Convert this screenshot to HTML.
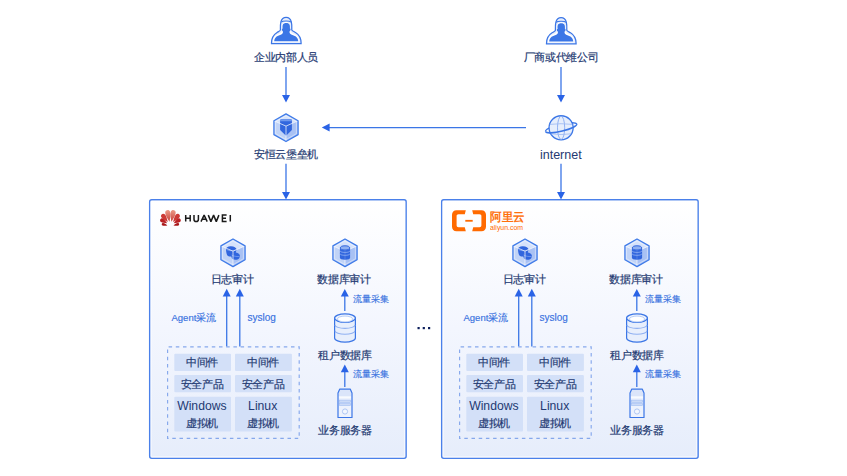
<!DOCTYPE html>
<html><head><meta charset="utf-8">
<style>
html,body{margin:0;padding:0;background:#fff;width:847px;height:476px;overflow:hidden}
body{position:relative;font-family:"Liberation Sans",sans-serif}
svg{position:absolute;left:0;top:0}
.t{position:absolute;line-height:1;white-space:nowrap;color:#243a72;-webkit-text-stroke:0.2px #243a72}
.c{width:200px;text-align:center}
.s{font-size:11px;transform:scale(0.97);transform-origin:50% 50%}
.b{color:#3771e0;-webkit-text-stroke:0.15px #3771e0;font-size:9px}
</style></head><body>
<svg width="847" height="476" viewBox="0 0 847 476">
<defs>
<linearGradient id="bg" x1="0" y1="0" x2="0" y2="1"><stop offset="0" stop-color="#ffffff"/><stop offset="0.5" stop-color="#f3f6fe"/><stop offset="1" stop-color="#e6edfb"/></linearGradient>
<linearGradient id="hg" x1="0" y1="0" x2="0" y2="1"><stop offset="0" stop-color="#ec9a86"/><stop offset="1" stop-color="#c8403a"/></linearGradient>
<g id="cube">
 <path d="M0,-13.85 L12.1,-6.925 L12.1,6.925 L0,13.85 L-12.1,6.925 L-12.1,-6.925 Z" fill="#c0d3f7"/>
 <path d="M0,-13.85 L12.1,-6.925 L0,-1.6 L-12.1,-6.925 Z" fill="#d5e2fb"/>
 <path d="M12.1,-6.925 L12.1,6.925 L0,13.85 L0,-1.6 Z" fill="#a8c1f4"/>
</g>
<g id="cubeTop">
 <path d="M-12.1,-6.925 L0,-1.6 L12.1,-6.925 M0,-1.6 L0,13.85" stroke="#f4f7fe" stroke-width="0.9" fill="none" opacity="0.85"/>
 <path d="M0,-13.85 L12.1,-6.925 L12.1,6.925 L0,13.85 L-12.1,6.925 L-12.1,-6.925 Z" transform="scale(0.86)" fill="none" stroke="#ffffff" stroke-width="0.9" opacity="0.55"/>
 <path d="M0,-13.85 L12.1,-6.925 L12.1,6.925 L0,13.85 L-12.1,6.925 L-12.1,-6.925 Z" fill="none" stroke="#3f7be8" stroke-width="1.25" stroke-linejoin="round"/>
</g>
<g id="person">
 <path d="M9.4,13 C9.2,8 9,0.4 15.1,0.4 C21.2,0.4 21,8 20.8,13 C21.4,14 23,14.6 24.5,15.5 C28.5,18 30.1,22 30.1,26.1 L30.1,26.5 L0.5,26.5 L0.5,26.1 C0.5,22 2.1,18 6.1,15.5 C7.6,14.6 9.2,14 9.4,13 Z" fill="#e6edfc" stroke="#3b76e6" stroke-width="1.25"/>
 <path d="M10.2,5.2 C11.5,3.5 18.7,3.5 20,5.2" fill="none" stroke="#3b76e6" stroke-width="1.1"/>
 <path d="M11.2,12.8 C10.8,9 10.9,4.9 15.1,4.9 C19.3,4.9 19.6,9 19.2,12.8 C19.6,15.5 21,16.5 23.5,17.3 C26.3,18.3 28.3,20.3 28.4,25.2 L1.9,25.2 C2,20.3 4,18.3 6.8,17.3 C9.3,16.5 10.8,15.5 11.2,12.8 Z" fill="#ffffff"/>
 <path d="M11.6,11.5 C11.3,8 11.8,5.9 15.2,5.9 C18.6,5.9 19.2,8 18.9,11.5 L19.6,12.1 L19.3,13.6 L18.6,14.3 C18.4,15.8 18.5,16.6 20.2,17.4 C23.5,18.6 27,19.5 27.3,24.2 L3.2,24.2 C3.5,19.5 7,18.6 10.3,17.4 C12,16.6 12.1,15.8 11.8,14.3 L11.1,13.6 L10.8,12.1 Z" fill="#3b76e6"/>
</g>
<g id="arrowDown"><path d="M-4,0 L4,0 L0,7.6 Z" fill="#2a63e6"/></g>
<g id="arrowUp"><path d="M-4,0 L4,0 L0,-7.6 Z" fill="#2a63e6"/></g>
</defs>

<rect x="149.65" y="199.75" width="256.5" height="258.6" rx="2" fill="url(#bg)" stroke="#4a80ea" stroke-width="1.4"/>
<rect x="441.65" y="199.75" width="256.5" height="258.6" rx="2" fill="url(#bg)" stroke="#4a80ea" stroke-width="1.4"/>
<rect x="151.2" y="201.3" width="253.4" height="255.5" rx="1" fill="none" stroke="#ffffff" stroke-width="0.8" opacity="0.8"/>
<rect x="443.2" y="201.3" width="253.4" height="255.5" rx="1" fill="none" stroke="#ffffff" stroke-width="0.8" opacity="0.8"/>

<use href="#person" x="271" y="17"/>
<line x1="286" y1="67" x2="286" y2="96" stroke="#3b76e6" stroke-width="1.3"/>
<use href="#arrowDown" x="286" y="94.9"/>
<line x1="286" y1="163.8" x2="286" y2="192" stroke="#3b76e6" stroke-width="1.3"/>
<use href="#arrowDown" x="286" y="192"/>

<g transform="translate(286,127.7)">
 <use href="#cube"/>
 <path d="M-5.9,-7.6 Q-5.9,-8.4 -5.1,-8.4 L5.1,-8.4 Q5.9,-8.4 5.9,-7.6 L5.9,2.4 L0,8 L-5.9,2.4 Z" fill="#3166de"/>
 <path d="M-5.9,-7.6 Q-5.9,-8.4 -5.1,-8.4 L5.1,-8.4 Q5.9,-8.4 5.9,-7.6 L5.9,-6.4 L-5.9,-6.4 Z" fill="#6f99ee"/>
 <use href="#cubeTop"/>
</g>

<use href="#person" x="546" y="17.3"/>
<line x1="561" y1="67" x2="561" y2="96" stroke="#3b76e6" stroke-width="1.3"/>
<use href="#arrowDown" x="561" y="94.9"/>
<line x1="561" y1="163.8" x2="561" y2="192" stroke="#3b76e6" stroke-width="1.3"/>
<use href="#arrowDown" x="561" y="192"/>

<g transform="translate(561.1,127.8)">
 <path d="M-15.6,3.7 A16,3.4 -13 0 1 15.6,-3.7" fill="none" stroke="#3b76e6" stroke-width="1.2"/>
 <circle r="12.05" fill="#e6eefc" stroke="#3b76e6" stroke-width="1.3"/>
 <ellipse rx="3.6" ry="11.6" fill="none" stroke="#86a9f0" stroke-width="0.9"/>
 <path d="M-11.3,-3.4 Q0,-4.8 11.3,-3.4 M-10.2,6 Q0,7.5 10.2,6" fill="none" stroke="#9ab7f2" stroke-width="0.8"/>
 <path d="M-15.6,3.7 A16,3.4 -13 0 0 15.6,-3.7" fill="none" stroke="#3b76e6" stroke-width="1.5"/>
</g>

<line x1="329" y1="127.6" x2="526" y2="127.6" stroke="#3b76e6" stroke-width="1.45"/>
<path d="M321.8,127.6 L329.6,123.6 L329.6,131.6 Z" fill="#2a63e6"/>

<rect x="417.5" y="327" width="2.2" height="2.2" fill="#0d1f5c"/>
<rect x="422.7" y="327" width="2.2" height="2.2" fill="#0d1f5c"/>
<rect x="428" y="327" width="2.2" height="2.2" fill="#0d1f5c"/>


<g id="inner">
 <g transform="translate(233,252.8)">
  <use href="#cube"/>
  <path d="M-7,-3.3 C-7.2,-5.3 -5,-6.8 -2,-6.6 C1,-6.4 3.5,-5.3 3.5,-3.3 L2.3,1.7 C1.3,3.7 -3,4.4 -5,3.2 C-6.5,2.2 -6.8,-0.8 -7,-3.3 Z" fill="#3166de"/>
  <path d="M-6.6,-3.4 C-5,-1.8 1.5,-1.5 3.2,-3.4" fill="none" stroke="#84a8f1" stroke-width="0.7"/>
  <path d="M-1.8,1.7 C-1.7,0 0.5,-0.8 3,-0.3 C5.5,0.2 7.2,1.7 7,3.7 L6,5.7 C5,7.2 1,7.4 -0.5,6.2 C-1.5,5.5 -1.8,3.2 -1.8,1.7 Z" fill="#3166de"/>
  <path d="M-1.5,2.2 C0.5,3.5 5,4.2 6.8,3.5" fill="none" stroke="#84a8f1" stroke-width="0.7"/>
  <use href="#cubeTop"/>
 </g>
 <g transform="translate(345,252.8)">
  <use href="#cube"/>
  <use href="#cubeTop"/>
  <path d="M-5.1,-4.7 L-5.1,5 A5.1,1.9 0 0 0 5.1,5 L5.1,-4.7 Z" fill="#3166de"/>
  <path d="M-5.1,-4.9 A5.1,1.9 0 0 0 5.1,-4.9 M-5.1,-2.2 A5.1,1.9 0 0 0 5.1,-2.2 M-5.1,0.7 A5.1,1.9 0 0 0 5.1,0.7" fill="none" stroke="#90b0f2" stroke-width="0.8"/>
  <ellipse cx="0" cy="-4.9" rx="4.6" ry="2.1" fill="#8fb0f2" stroke="#3166de" stroke-width="1"/>
  <line x1="0" y1="-2.5" x2="0" y2="7" stroke="#7fa3ef" stroke-width="0.6" opacity="0.7"/>
 </g>
 <line x1="226.7" y1="295" x2="226.7" y2="346.5" stroke="#3b76e6" stroke-width="1.3"/>
 <use href="#arrowUp" x="226.7" y="296.4"/>
 <line x1="239.8" y1="295" x2="239.8" y2="346.5" stroke="#3b76e6" stroke-width="1.3"/>
 <use href="#arrowUp" x="239.8" y="296.4"/>
 <line x1="344.8" y1="296" x2="344.8" y2="311" stroke="#3b76e6" stroke-width="1.3"/>
 <use href="#arrowUp" x="344.8" y="296.6"/>
 <line x1="344.8" y1="371" x2="344.8" y2="387" stroke="#3b76e6" stroke-width="1.3"/>
 <use href="#arrowUp" x="344.8" y="372.2"/>
 <rect x="167.6" y="346.8" width="131.6" height="91.6" fill="none" stroke="#86a8ec" stroke-width="1.15" stroke-dasharray="3.5 3.7" stroke-dashoffset="-1"/>
 <g fill="#d3e0f8">
  <rect x="174.3" y="353.7" width="56.7" height="17.2" rx="1"/>
  <rect x="235" y="353.7" width="56.9" height="17.2" rx="1"/>
  <rect x="174.3" y="374.9" width="56.7" height="17.4" rx="1"/>
  <rect x="235" y="374.9" width="56.9" height="17.4" rx="1"/>
  <rect x="174.3" y="396.7" width="56.7" height="34.8" rx="1"/>
  <rect x="235" y="396.7" width="56.9" height="34.8" rx="1"/>
 </g>
 <g transform="translate(345,313.3)">
  <path d="M-10.4,4.8 L-10.4,24.6 A10.4,4.2 0 0 0 10.4,24.6 L10.4,4.8 Z" fill="#e8effc" stroke="#3b76e6" stroke-width="1.2"/>
  <path d="M-10,11.6 A10,3.5 0 0 0 10,11.6 M-10,17.5 A10,3.5 0 0 0 10,17.5" fill="none" stroke="#8fb0f1" stroke-width="1.05"/>
  <ellipse cx="0" cy="4.8" rx="10.4" ry="4.2" fill="#eef3fd" stroke="#3b76e6" stroke-width="1.2"/>
  <ellipse cx="0" cy="5.7" rx="7.6" ry="2.9" fill="#ffffff" stroke="#b3c9f4" stroke-width="0.9"/>
 </g>

 <g transform="translate(345,388.5)">
  <path d="M-5.2,0.6 L5.2,0.6 L7,4.4 L7,29 L-7,29 L-7,4.4 Z" fill="#edf2fd"/>
  <rect x="-6.5" y="1.2" width="13" height="6.5" fill="#dbe5fa"/>
  <rect x="-6.5" y="8.2" width="13" height="0.9" fill="#ffffff"/>
  <rect x="-5.6" y="11.6" width="11.2" height="2.4" fill="#cbdaf7" stroke="#9fbcf2" stroke-width="0.6"/>
  <rect x="-5.6" y="15.1" width="11.2" height="1.9" fill="#cbdaf7" stroke="#9fbcf2" stroke-width="0.6"/>
  <circle cx="0" cy="23" r="2.6" fill="#f2f6fe" stroke="#a7c1f2" stroke-width="0.9"/>
  <path d="M-5.2,0.6 L5.2,0.6 L7,4.4 L7,29 L-7,29 L-7,4.4 Z" fill="none" stroke="#3b76e6" stroke-width="1.2" stroke-linejoin="round"/>
 </g>

</g>
<use href="#inner" x="292"/>

<path d="M0,0 C-1.25,-3.54 -2.90,-6.49 -2.50,-9.68 C-2.10,-12.51 2.10,-12.51 2.50,-9.68 C2.90,-6.49 1.25,-3.54 0,0 Z" transform="translate(169.50,221.70) rotate(-11)" fill="url(#hg)"/>
<path d="M0,0 C-1.25,-3.54 -2.90,-6.49 -2.50,-9.68 C-2.10,-12.51 2.10,-12.51 2.50,-9.68 C2.90,-6.49 1.25,-3.54 0,0 Z" transform="translate(171.40,221.70) rotate(11)" fill="url(#hg)"/>
<path d="M0,0 C-1.10,-2.94 -2.55,-5.39 -2.20,-8.04 C-1.85,-10.39 1.85,-10.39 2.20,-8.04 C2.55,-5.39 1.10,-2.94 0,0 Z" transform="translate(167.80,222.00) rotate(-37)" fill="#cd3a36"/>
<path d="M0,0 C-1.10,-2.94 -2.55,-5.39 -2.20,-8.04 C-1.85,-10.39 1.85,-10.39 2.20,-8.04 C2.55,-5.39 1.10,-2.94 0,0 Z" transform="translate(173.10,222.00) rotate(37)" fill="#cd3a36"/>
<path d="M0,0 C-0.97,-2.34 -2.26,-4.29 -1.95,-6.40 C-1.64,-8.27 1.64,-8.27 1.95,-6.40 C2.26,-4.29 0.97,-2.34 0,0 Z" transform="translate(167.20,223.20) rotate(-61)" fill="#ba2124"/>
<path d="M0,0 C-0.97,-2.34 -2.26,-4.29 -1.95,-6.40 C-1.64,-8.27 1.64,-8.27 1.95,-6.40 C2.26,-4.29 0.97,-2.34 0,0 Z" transform="translate(173.70,223.20) rotate(61)" fill="#ba2124"/>
<path d="M0,0 C-0.65,-1.74 -1.51,-3.19 -1.30,-4.76 C-1.09,-6.15 1.09,-6.15 1.30,-4.76 C1.51,-3.19 0.65,-1.74 0,0 Z" transform="translate(167.40,225.40) rotate(-77)" fill="#a8171a"/>
<path d="M0,0 C-0.65,-1.74 -1.51,-3.19 -1.30,-4.76 C-1.09,-6.15 1.09,-6.15 1.30,-4.76 C1.51,-3.19 0.65,-1.74 0,0 Z" transform="translate(173.50,225.40) rotate(77)" fill="#a8171a"/>
<path d="M185.7,215.1 V221.6 M190.2,215.1 V221.6 M185.7,218.3 H190.2 M194,215.1 V219.2 C194,221 194.8,221.6 196.2,221.6 C197.6,221.6 198.4,221 198.4,219.2 V215.1 M201,221.6 L204.1,215.1 L207.2,221.6 M202.2,219.2 H206 M208.3,215.1 L210.9,221.6 L213.6,215.1 L216.3,221.6 L218.9,215.1 M226.6,215.1 H222.4 V221.6 H226.6 M222.4,218.3 H226 M230.3,215.1 V221.6" fill="none" stroke="#1a1a1a" stroke-width="1.5" stroke-miterlimit="2"/>


<g transform="translate(452,210.2)" fill="#ff6a00">
 <path d="M13.8,0 L4.5,0 C1.8,0 0,1.8 0,4.5 L0,16.5 C0,19.2 1.8,21 4.5,21 L13.8,21 L12.8,17 L6.5,17 C5.3,17 4.6,16.3 4.6,15.1 L4.6,5.9 C4.6,4.7 5.3,4 6.5,4 L12.8,4 Z"/>
 <path d="M20.2,0 L29.5,0 C32.2,0 34,1.8 34,4.5 L34,16.5 C34,19.2 32.2,21 29.5,21 L20.2,21 L21.2,17 L27.5,17 C28.7,17 29.4,16.3 29.4,15.1 L29.4,5.9 C29.4,4.7 28.7,4 27.5,4 L21.2,4 Z"/>
 <rect x="13.3" y="9.7" width="7.4" height="1.8"/>
</g>

</svg>

<div class="t c s" style="left:185.5px;top:52.3px">企业内部人员</div>
<div class="t c s" style="left:186px;top:148.7px">安恒云堡垒机</div>
<div class="t c s" style="left:461px;top:52.3px">厂商或代维公司</div>
<div class="t c" style="left:460.8px;top:148.9px;font-size:12.5px;-webkit-text-stroke:0">internet</div>
<div class="t" style="left:489.8px;top:211.7px;font-size:11.5px;transform:scale(0.96,1);transform-origin:0 0;color:#ff6a00;-webkit-text-stroke:0.4px #ff6a00">阿里云</div>
<div class="t" style="left:490px;top:223.7px;font-size:7.2px;transform:scale(0.96,1);transform-origin:0 0;color:#ff6a00;-webkit-text-stroke:0">aliyun.com</div>

<div class="t c s" style="left:131.9px;top:274px">日志审计</div>
<div class="t c s" style="left:244.1px;top:274.1px">数据库审计</div>
<div class="t b" style="left:171.5px;top:313px;font-size:9.5px">Agent采流</div>
<div class="t b" style="left:247.5px;top:313px;font-size:10px">syslog</div>
<div class="t b" style="left:353.0px;top:295.2px">流量采集</div>
<div class="t c s" style="left:245.2px;top:350px">租户数据库</div>
<div class="t b" style="left:352.8px;top:370.2px">流量采集</div>
<div class="t c s" style="left:245.0px;top:425.3px">业务服务器</div>
<div class="t c s" style="left:101.9px;top:357.3px">中间件</div>
<div class="t c s" style="left:162.7px;top:357.3px">中间件</div>
<div class="t c s" style="left:101.9px;top:378.5px">安全产品</div>
<div class="t c s" style="left:162.7px;top:378.5px">安全产品</div>
<div class="t c" style="left:101.9px;top:399.5px;font-size:12.2px;-webkit-text-stroke:0">Windows</div>
<div class="t c" style="left:162.7px;top:399.5px;font-size:12.2px;-webkit-text-stroke:0">Linux</div>
<div class="t c s" style="left:101.9px;top:417.5px">虚拟机</div>
<div class="t c s" style="left:162.7px;top:417.5px">虚拟机</div>

<div class="t c s" style="left:423.9px;top:274px">日志审计</div>
<div class="t c s" style="left:536.1px;top:274.1px">数据库审计</div>
<div class="t b" style="left:463.5px;top:313px;font-size:9.5px">Agent采流</div>
<div class="t b" style="left:539.5px;top:313px;font-size:10px">syslog</div>
<div class="t b" style="left:645.0px;top:295.2px">流量采集</div>
<div class="t c s" style="left:537.2px;top:350px">租户数据库</div>
<div class="t b" style="left:644.8px;top:370.2px">流量采集</div>
<div class="t c s" style="left:537.0px;top:425.3px">业务服务器</div>
<div class="t c s" style="left:393.9px;top:357.3px">中间件</div>
<div class="t c s" style="left:454.7px;top:357.3px">中间件</div>
<div class="t c s" style="left:393.9px;top:378.5px">安全产品</div>
<div class="t c s" style="left:454.7px;top:378.5px">安全产品</div>
<div class="t c" style="left:393.9px;top:399.5px;font-size:12.2px;-webkit-text-stroke:0">Windows</div>
<div class="t c" style="left:454.7px;top:399.5px;font-size:12.2px;-webkit-text-stroke:0">Linux</div>
<div class="t c s" style="left:393.9px;top:417.5px">虚拟机</div>
<div class="t c s" style="left:454.7px;top:417.5px">虚拟机</div>

</body></html>
